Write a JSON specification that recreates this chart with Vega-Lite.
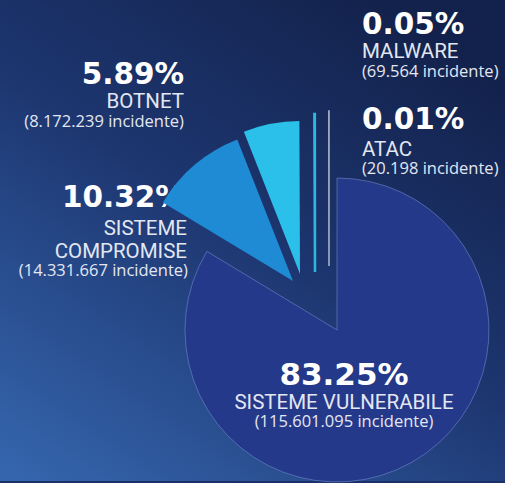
{
  "$schema": "https://vega.github.io/schema/vega-lite/v6.json",
  "width": 505,
  "height": 483,
  "autosize": {"type": "fit", "contains": "padding"},
  "padding": 0,
  "background": "#1b3068",
  "config": {"view": {"stroke": null}},
  "datasets": {
    "slices": [
      {"cat": "SISTEME VULNERABILE", "ord": 1, "count": 115601095, "pct": "83.25%", "name": "SISTEME VULNERABILE", "label": "(115.601.095 incidente)"},
      {"cat": "SISTEME COMPROMISE", "ord": 2, "count": 14331667, "pct": "10.32%", "name": "SISTEME\nCOMPROMISE", "label": "(14.331.667 incidente)"},
      {"cat": "BOTNET", "ord": 3, "count": 8172239, "pct": "5.89%", "name": "BOTNET", "label": "(8.172.239 incidente)"},
      {"cat": "MALWARE", "ord": 4, "count": 69564, "pct": "0.05%", "name": "MALWARE", "label": "(69.564 incidente)"},
      {"cat": "ATAC", "ord": 5, "count": 20198, "pct": "0.01%", "name": "ATAC", "label": "(20.198 incidente)"}
    ]
  },
  "data": {"name": "slices"},
  "layer": [
    {
      "data": {"values": [{"k": 1}]},
      "mark": {"type": "rect", "fill": {"gradient": "linear", "x1": 0.75, "y1": 0, "x2": 0.05, "y2": 1, "stops": [{"offset": 0, "color": "#13224c"}, {"offset": 0.45, "color": "#1d3670"}, {"offset": 1, "color": "#3565ad"}]}},
      "encoding": {}
    },
    {
      "transform": [{"filter": "datum.cat==='SISTEME COMPROMISE'"}],
      "mark": {"type": "text", "align": "left", "baseline": "alphabetic", "dx": -190.5, "dy": -34, "font": "DejaVu Sans", "fontWeight": "bold", "fontSize": 29.5, "fill": "#ffffff"},
      "encoding": {"text": {"field": "pct"}}
    },
    {
      "mark": {"type": "arc", "radius": 152, "xOffset": 84.5, "yOffset": 89.5, "fill": "#25398a", "stroke": "#7d98d8", "strokeWidth": 1, "strokeOpacity": 0.5},
      "encoding": {
        "theta": {"field": "count", "type": "quantitative", "stack": true},
        "order": {"field": "ord", "type": "quantitative"},
        "opacity": {"condition": {"test": "datum.cat==='SISTEME VULNERABILE'", "value": 1}, "value": 0}
      }
    },
    {
      "mark": {"type": "arc", "radius": 152, "xOffset": 40.5, "yOffset": 40.5, "fill": "#1f8bd5"},
      "encoding": {
        "theta": {"field": "count", "type": "quantitative", "stack": true},
        "order": {"field": "ord", "type": "quantitative"},
        "opacity": {"condition": {"test": "datum.cat==='SISTEME COMPROMISE'", "value": 1}, "value": 0}
      }
    },
    {
      "mark": {"type": "arc", "radius": 153, "xOffset": 47.5, "yOffset": 33.5, "fill": "#2ac0ea"},
      "encoding": {
        "theta": {"field": "count", "type": "quantitative", "stack": true},
        "order": {"field": "ord", "type": "quantitative"},
        "opacity": {"condition": {"test": "datum.cat==='BOTNET'", "value": 1}, "value": 0}
      }
    },
    {
      "mark": {"type": "arc", "radius": 158, "xOffset": 62.5, "yOffset": 31.5, "fill": "#2bb9e2", "stroke": "#2bb9e2", "strokeWidth": 2.5},
      "encoding": {
        "theta": {"field": "count", "type": "quantitative", "stack": true},
        "order": {"field": "ord", "type": "quantitative"},
        "opacity": {"condition": {"test": "datum.cat==='MALWARE'", "value": 1}, "value": 0}
      }
    },
    {
      "mark": {"type": "arc", "radius": 155, "xOffset": 76.5, "yOffset": 25.5, "fill": "#c9cee0", "stroke": "#c9cee0", "strokeWidth": 1.5},
      "encoding": {
        "theta": {"field": "count", "type": "quantitative", "stack": true},
        "order": {"field": "ord", "type": "quantitative"},
        "opacity": {"condition": {"test": "datum.cat==='ATAC'", "value": 0.85}, "value": 0}
      }
    },
    {
      "transform": [{"filter": "datum.cat==='SISTEME VULNERABILE'"}],
      "mark": {"type": "text", "align": "center", "baseline": "alphabetic", "dx": 91.5, "dy": 144.5, "font": "DejaVu Sans", "fontWeight": "bold", "fontSize": 31, "fill": "#ffffff"},
      "encoding": {"text": {"field": "pct"}}
    },
    {
      "transform": [{"filter": "datum.cat==='SISTEME VULNERABILE'"}],
      "mark": {"type": "text", "align": "center", "baseline": "alphabetic", "dx": 91.5, "dy": 168.5, "font": "Roboto", "fontSize": 20.5, "fill": "#e3e7f2"},
      "encoding": {"text": {"field": "name"}}
    },
    {
      "transform": [{"filter": "datum.cat==='SISTEME VULNERABILE'"}],
      "mark": {"type": "text", "align": "center", "baseline": "alphabetic", "dx": 91.5, "dy": 186.5, "font": "Open Sans", "fontSize": 16.5, "fill": "#e3e7f2"},
      "encoding": {"text": {"field": "label"}}
    },
    {
      "transform": [{"filter": "datum.cat==='SISTEME COMPROMISE'"}],
      "mark": {"type": "text", "align": "right", "baseline": "alphabetic", "dx": -65.5, "dy": -5.5, "lineBreak": "\n", "lineHeight": 23, "font": "Roboto", "fontSize": 20.5, "fill": "#e3e7f2"},
      "encoding": {"text": {"field": "name"}}
    },
    {
      "transform": [{"filter": "datum.cat==='SISTEME COMPROMISE'"}],
      "mark": {"type": "text", "align": "right", "baseline": "alphabetic", "dx": -64.5, "dy": 35, "font": "Open Sans", "fontSize": 16.5, "fill": "#e3e7f2"},
      "encoding": {"text": {"field": "label"}}
    },
    {
      "transform": [{"filter": "datum.cat==='BOTNET'"}],
      "mark": {"type": "text", "align": "right", "baseline": "alphabetic", "dx": -68.5, "dy": -156.5, "font": "DejaVu Sans", "fontWeight": "bold", "fontSize": 29.5, "fill": "#ffffff"},
      "encoding": {"text": {"field": "pct"}}
    },
    {
      "transform": [{"filter": "datum.cat==='BOTNET'"}],
      "mark": {"type": "text", "align": "right", "baseline": "alphabetic", "dx": -68.5, "dy": -132.5, "font": "Roboto", "fontSize": 20.5, "fill": "#e3e7f2"},
      "encoding": {"text": {"field": "name"}}
    },
    {
      "transform": [{"filter": "datum.cat==='BOTNET'"}],
      "mark": {"type": "text", "align": "right", "baseline": "alphabetic", "dx": -68.5, "dy": -114, "font": "Open Sans", "fontSize": 16.5, "fill": "#e3e7f2"},
      "encoding": {"text": {"field": "label"}}
    },
    {
      "transform": [{"filter": "datum.cat==='MALWARE'"}],
      "mark": {"type": "text", "align": "left", "baseline": "alphabetic", "dx": 109.5, "dy": -206.5, "font": "DejaVu Sans", "fontWeight": "bold", "fontSize": 29.5, "fill": "#ffffff"},
      "encoding": {"text": {"field": "pct"}}
    },
    {
      "transform": [{"filter": "datum.cat==='MALWARE'"}],
      "mark": {"type": "text", "align": "left", "baseline": "alphabetic", "dx": 109.5, "dy": -183, "font": "Roboto", "fontSize": 20.5, "fill": "#e3e7f2"},
      "encoding": {"text": {"field": "name"}}
    },
    {
      "transform": [{"filter": "datum.cat==='MALWARE'"}],
      "mark": {"type": "text", "align": "left", "baseline": "alphabetic", "dx": 109.5, "dy": -163.5, "font": "Open Sans", "fontSize": 16.5, "fill": "#e3e7f2"},
      "encoding": {"text": {"field": "label"}}
    },
    {
      "transform": [{"filter": "datum.cat==='ATAC'"}],
      "mark": {"type": "text", "align": "left", "baseline": "alphabetic", "dx": 109.5, "dy": -111.5, "font": "DejaVu Sans", "fontWeight": "bold", "fontSize": 29.5, "fill": "#ffffff"},
      "encoding": {"text": {"field": "pct"}}
    },
    {
      "transform": [{"filter": "datum.cat==='ATAC'"}],
      "mark": {"type": "text", "align": "left", "baseline": "alphabetic", "dx": 109.5, "dy": -85, "font": "Roboto", "fontSize": 20.5, "fill": "#e3e7f2"},
      "encoding": {"text": {"field": "name"}}
    },
    {
      "transform": [{"filter": "datum.cat==='ATAC'"}],
      "mark": {"type": "text", "align": "left", "baseline": "alphabetic", "dx": 109.5, "dy": -66.5, "font": "Open Sans", "fontSize": 16.5, "fill": "#e3e7f2"},
      "encoding": {"text": {"field": "label"}}
    }
  ]
}
